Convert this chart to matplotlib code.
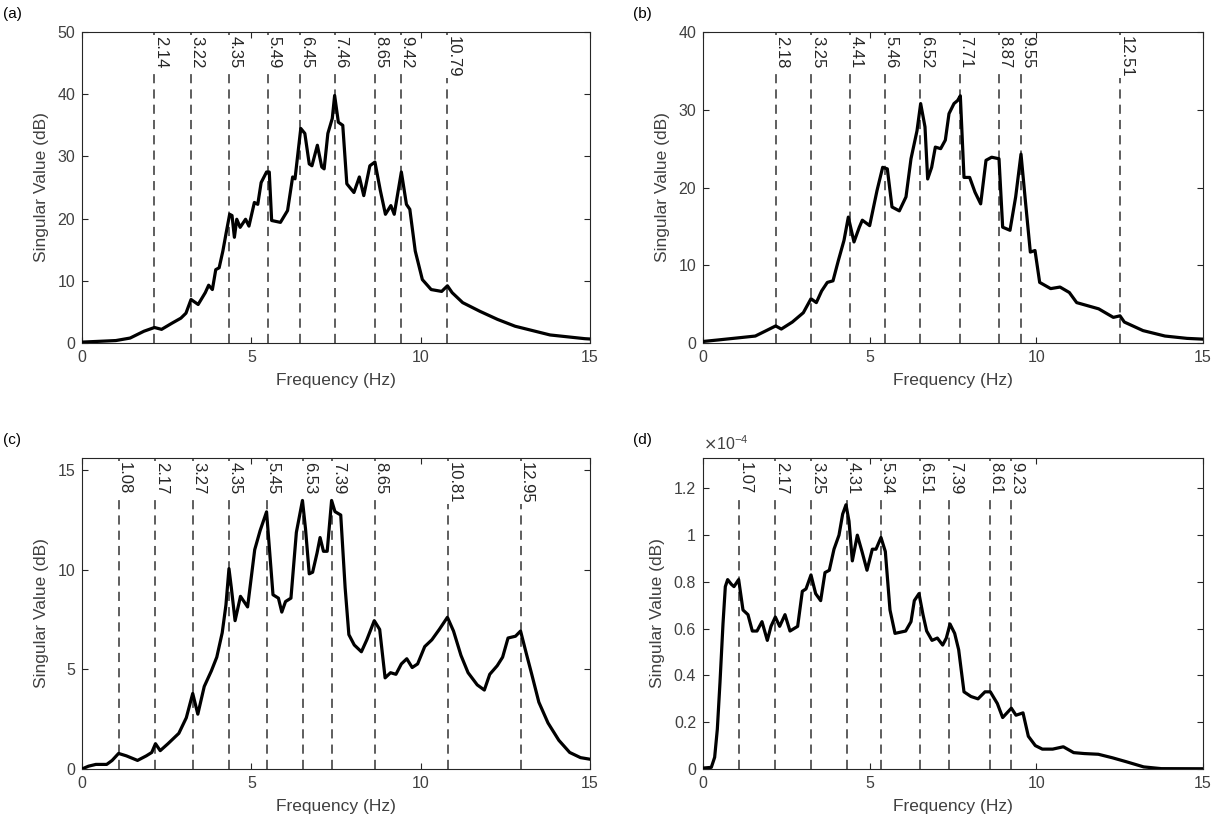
import numpy as np
import matplotlib
matplotlib.use("Agg")
from matplotlib import pyplot as plt
from matplotlib.ticker import FuncFormatter

plt.rcParams['font.family'] = ['Liberation Sans', 'DejaVu Sans']

# ---- panel (a) ----
a_freq = [0, 1.0, 1.42, 1.83, 2.14, 2.35, 2.66, 2.92, 3.07, 3.22, 3.43, 3.64, 3.74, 3.85, 3.95,
          4.05, 4.16, 4.26, 4.36, 4.43, 4.5, 4.57, 4.67, 4.83, 4.93, 5.09, 5.19, 5.29, 5.45,
          5.53, 5.6, 5.86, 6.07, 6.22, 6.29, 6.46, 6.58, 6.71, 6.79, 6.95, 7.08, 7.15, 7.26,
          7.39, 7.46, 7.57, 7.7, 7.82, 8.03, 8.19, 8.32, 8.5, 8.65, 8.81, 8.96, 9.12, 9.22,
          9.43, 9.58, 9.68, 9.84, 10.05, 10.31, 10.62, 10.79, 10.93, 11.24, 11.75, 12.27,
          12.79, 13.82, 14.85, 15]
a_val = [0.15, 0.4, 0.8, 1.9, 2.5, 2.2, 3.2, 4.0, 4.8, 7.0, 6.2, 8.1, 9.3, 8.6, 11.8,
         12.1, 14.8, 17.8, 20.7, 20.5, 17.0, 19.9, 18.6, 19.9, 18.8, 22.6, 22.3, 25.8, 27.5,
         27.5, 19.7, 19.4, 21.3, 26.7, 26.4, 34.5, 33.7, 28.8, 28.5, 31.8, 28.3, 28.0, 33.7,
         36.1, 39.8, 35.5, 35.0, 25.6, 24.2, 26.7, 23.7, 28.5, 29.1, 24.5, 20.7, 22.1, 20.7,
         27.5, 22.3, 21.5, 14.8, 10.2, 8.6, 8.3, 9.2, 8.1, 6.5, 5.1, 3.8,
         2.7, 1.3, 0.7, 0.65]
a_peaks = [2.14, 3.22, 4.35, 5.49, 6.45, 7.46, 8.65, 9.42, 10.79]

# ---- panel (b) ----
b_freq = [0, 0.46, 1.13, 1.57, 1.9, 2.18, 2.35, 2.68, 3.01, 3.24, 3.40, 3.56, 3.73, 3.90,
          4.06, 4.23, 4.36, 4.53, 4.69, 4.78, 5.0, 5.22, 5.39, 5.53, 5.67, 5.89, 6.09, 6.24,
          6.42, 6.53, 6.66, 6.74, 6.86, 6.97, 7.13, 7.27, 7.38, 7.53, 7.64, 7.72, 7.83, 8.0,
          8.16, 8.33, 8.49, 8.66, 8.88, 8.99, 9.21, 9.38, 9.54, 9.68, 9.82, 9.96, 10.1, 10.43,
          10.71, 10.99, 11.21, 11.54, 11.87, 12.31, 12.51, 12.64, 13.2, 13.86, 14.52, 15]
b_val = [0.2, 0.4, 0.7, 0.9, 1.6, 2.2, 1.8, 2.7, 3.9, 5.7, 5.2, 6.7, 7.8, 8.0,
         10.6, 13.2, 16.2, 13.0, 14.9, 15.8, 15.1, 19.6, 22.6, 22.4, 17.5, 17.0, 18.8, 23.7,
         27.3, 30.8, 27.8, 21.1, 22.6, 25.2, 25.0, 26.1, 29.5, 30.8, 31.2, 31.8, 21.3, 21.3,
         19.4, 17.9, 23.5, 23.9, 23.7, 14.9, 14.5, 18.8, 24.3, 17.9, 11.7, 11.9, 7.8, 7.0,
         7.2, 6.5, 5.2, 4.8, 4.4, 3.3, 3.5, 2.7, 1.6, 0.9, 0.6, 0.5]
b_peaks = [2.18, 3.25, 4.41, 5.46, 6.52, 7.71, 8.87, 9.55, 12.51]

# ---- panel (c) ----
c_freq = [0, 0.19, 0.41, 0.73, 0.89, 1.08, 1.31, 1.64, 1.9, 2.06, 2.17, 2.31, 2.54, 2.86,
          3.08, 3.27, 3.42, 3.61, 3.82, 3.98, 4.14, 4.25, 4.34, 4.41, 4.52, 4.68, 4.89, 5.1,
          5.26, 5.45, 5.64, 5.8, 5.9, 6.01, 6.17, 6.33, 6.51, 6.6, 6.71, 6.81, 6.94, 7.03,
          7.13, 7.24, 7.37, 7.47, 7.64, 7.77, 7.88, 8.04, 8.25, 8.41, 8.63, 8.79, 8.95, 9.11,
          9.27, 9.43, 9.59, 9.75, 9.91, 10.12, 10.33, 10.55, 10.79, 10.97, 11.19, 11.4, 11.67,
          11.88, 12.04, 12.26, 12.42, 12.58, 12.8, 12.95, 13.12, 13.28, 13.49, 13.76, 14.08,
          14.4, 14.72, 15]
c_val = [0.0, 0.14, 0.23, 0.23, 0.43, 0.78, 0.66, 0.43, 0.66, 0.83, 1.27, 0.92, 1.27, 1.79,
         2.57, 3.79, 2.75, 4.14, 4.92, 5.61, 6.83, 8.22, 10.05, 9.09, 7.44, 8.66, 8.13, 11.0,
         11.96, 12.9, 8.74, 8.57, 7.87, 8.4, 8.57, 11.87, 13.47, 12.05, 9.79, 9.87, 10.83, 11.61,
         10.92, 10.92, 13.47, 12.91, 12.74, 9.09, 6.74, 6.22, 5.88, 6.48, 7.44, 7.0, 4.57, 4.83,
         4.75, 5.27, 5.53, 5.09, 5.27, 6.14, 6.48, 7.0, 7.61, 6.92, 5.7, 4.83, 4.22,
         3.96, 4.75, 5.18, 5.61, 6.57, 6.66, 6.92, 5.79, 4.75, 3.35, 2.31, 1.44,
         0.83, 0.57, 0.49]
c_peaks = [1.08, 2.17, 3.27, 4.35, 5.45, 6.53, 7.39, 8.65, 10.81, 12.95]

# ---- panel (d), values in units of 1e-4 ----
d_freq = [0, 0.25, 0.35, 0.43, 0.51, 0.6, 0.67, 0.74, 0.85, 0.93, 1.07, 1.2, 1.35, 1.48,
          1.62, 1.77, 1.93, 2.04, 2.17, 2.3, 2.46, 2.61, 2.84, 2.98, 3.09, 3.24, 3.38, 3.53,
          3.66, 3.79, 3.93, 4.08, 4.19, 4.29, 4.38, 4.48, 4.63, 4.77, 4.92, 5.08, 5.19, 5.34,
          5.47, 5.61, 5.76, 6.08, 6.24, 6.34, 6.48, 6.6, 6.71, 6.87, 7.03, 7.19, 7.3, 7.41,
          7.55, 7.67, 7.83, 8.04, 8.25, 8.46, 8.62, 8.83, 8.99, 9.25, 9.39, 9.6, 9.76, 9.97,
          10.18, 10.49, 10.81, 11.12, 11.44, 11.86, 12.28, 12.7, 13.22, 13.75, 15]
d_val = [0.004, 0.007, 0.05, 0.17, 0.37, 0.62, 0.78, 0.81, 0.79, 0.78, 0.81, 0.68, 0.66, 0.59,
         0.59, 0.63, 0.55, 0.61, 0.65, 0.61, 0.66, 0.59, 0.61, 0.76, 0.77, 0.83, 0.75, 0.72,
         0.84, 0.85, 0.94, 1.0, 1.09, 1.13, 1.06, 0.89, 1.0, 0.93, 0.85, 0.94, 0.94, 0.99,
         0.93, 0.68, 0.58, 0.59, 0.63, 0.72, 0.75, 0.66, 0.59, 0.55, 0.56, 0.53, 0.56, 0.62,
         0.58, 0.51, 0.33, 0.31, 0.30, 0.33, 0.33, 0.28, 0.22, 0.26, 0.23, 0.24, 0.14, 0.10,
         0.085, 0.085, 0.095, 0.07, 0.066, 0.063, 0.048, 0.031, 0.009, 0.0015, 0.001]
d_peaks = [1.07, 2.17, 3.25, 4.31, 5.34, 6.51, 7.39, 8.61, 9.23]

TXT = '#404040'


def draw_panel(ax, freq, val, peaks, ymax, yticks, letter, scale=1.0):
    ax.plot(freq, np.array(val) * scale, color='black', lw=2.3, zorder=3)
    for p in peaks:
        ax.axvline(p, color='#333333', lw=1.1, ls=(0, (6, 4)), zorder=1)
        ax.annotate(f"{p:.2f}", xy=(p, 0.988), xycoords=('data', 'axes fraction'),
                    xytext=(-1.0, 0), textcoords='offset points',
                    rotation=270, ha='left', va='top', fontsize=12, color='#262626',
                    bbox=dict(facecolor='white', edgecolor='none', pad=0.6), zorder=2)
    ax.set_xlim(0, 15)
    ax.set_ylim(0, ymax * scale)
    ax.set_xticks([0, 5, 10, 15])
    ax.set_yticks(np.array(yticks) * scale)
    ax.tick_params(direction='in', top=True, right=True, length=4, width=0.8,
                   labelsize=11.5, colors='#262626', labelcolor=TXT, pad=5)
    for s in ax.spines.values():
        s.set_color('#262626')
        s.set_linewidth(0.8)
    ax.set_xlabel('Frequency (Hz)', fontsize=12.5, color=TXT, labelpad=6)
    ax.set_ylabel('Singular Value (dB)', fontsize=12.5, color=TXT, labelpad=6)
    ax.text(-0.155 if ax.get_position().x0 < 0.5 else -0.14, 1.045, letter,
            transform=ax.transAxes, fontsize=11, color='black')


fig = plt.figure(figsize=(12.11, 8.3), dpi=100)

ax_a = fig.add_axes([0.0677, 0.5867, 0.4195, 0.3747])
ax_b = fig.add_axes([0.5805, 0.5867, 0.4129, 0.3747])
ax_c = fig.add_axes([0.0677, 0.0735, 0.4195, 0.3747])
ax_d = fig.add_axes([0.5805, 0.0735, 0.4129, 0.3747])

draw_panel(ax_a, a_freq, a_val, a_peaks, 50, [0, 10, 20, 30, 40, 50], '(a)')
draw_panel(ax_b, b_freq, b_val, b_peaks, 40, [0, 10, 20, 30, 40], '(b)')
draw_panel(ax_c, c_freq, c_val, c_peaks, 15.6, [0, 5, 10, 15], '(c)')
draw_panel(ax_d, d_freq, d_val, d_peaks, 1.33, [0, 0.2, 0.4, 0.6, 0.8, 1.0, 1.2], '(d)', scale=1e-4)

ax_d.yaxis.set_major_formatter(FuncFormatter(lambda y, pos: f"{y / 1e-4:g}"))
ax_d.text(0.0, 1.015, r'$\times\mathregular{10^{-4}}$', transform=ax_d.transAxes,
          fontsize=11.5, color=TXT, ha='left', va='bottom')

fig.savefig('out.png', dpi=100)
